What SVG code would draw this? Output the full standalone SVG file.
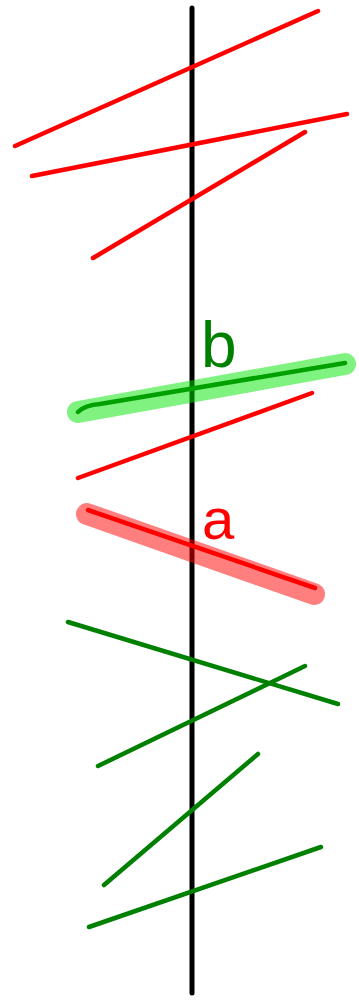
<svg xmlns="http://www.w3.org/2000/svg" width="359" height="1000" viewBox="0 0 359 1000">
<style>
.ln{fill:none;stroke-linecap:round;stroke-width:4.5}
.r{stroke:#ff0000}
.g{stroke:#008000}
.hl{fill:none;stroke-linecap:round;stroke-width:22}
.lbl{font-family:"Liberation Sans",Arial,sans-serif}
</style>
<rect width="359" height="1000" fill="#ffffff"/>
<g id="axis">
<line x1="192" y1="8" x2="192" y2="993" stroke="#000000" stroke-width="5" stroke-linecap="round"/>
</g>
<g id="red-lines">
<line class="ln r" x1="15" y1="146" x2="318" y2="11"/>
<line class="ln r" x1="32" y1="176" x2="347" y2="114"/>
<line class="ln r" x1="93" y1="258" x2="305" y2="132"/>
<line class="ln r" x1="78" y1="478" x2="312" y2="393"/>
</g>
<g id="line-b">
<line class="hl" stroke="#00e600" stroke-opacity="0.5" x1="78" y1="412" x2="345" y2="364"/>
<path class="ln" stroke="#00a000" stroke-width="6" d="M78,412 Q85,405 100,404 L345,363"/>
<text class="lbl" x="201" y="367" font-size="64" fill="#008000">b</text>
</g>
<g id="line-a">
<line class="hl" stroke="#ff0000" stroke-opacity="0.5" x1="87" y1="514" x2="314" y2="594"/>
<line class="ln r" stroke-width="6" x1="88" y1="510" x2="315" y2="588"/>
<text class="lbl" x="202" y="539" font-size="58" fill="#ff0000">a</text>
</g>
<g id="green-lines">
<line class="ln g" x1="68" y1="622" x2="338" y2="704"/>
<line class="ln g" x1="98" y1="766" x2="305" y2="666"/>
<line class="ln g" x1="104" y1="885" x2="258" y2="754"/>
<line class="ln g" x1="89" y1="927" x2="321" y2="847"/>
</g>
</svg>
